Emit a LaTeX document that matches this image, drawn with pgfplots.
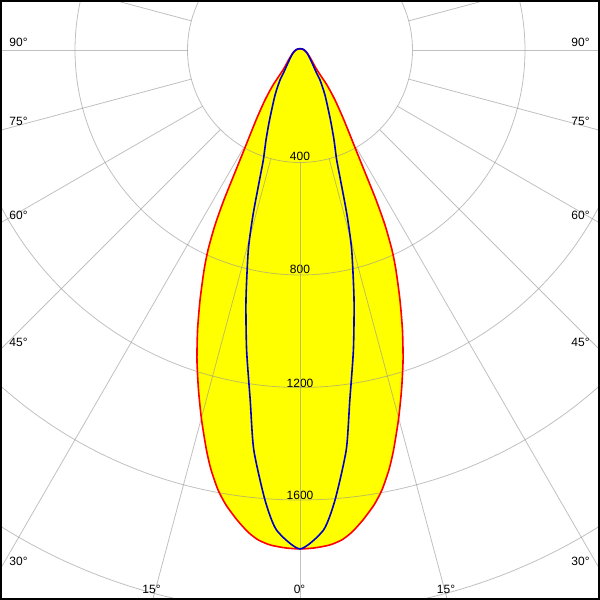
\documentclass[border=0pt]{standalone}
\usepackage{pgfplots}
\pgfplotsset{compat=1.18}
\usepackage{pgfplotstable}
\usepackage{fontspec}
\setmainfont{Liberation Sans}

% polar angle (0 = right, -90 = straight down), intensity in cd
\pgfplotstableread{
a r
-270 4
-240 5
-210 8
-180 15
-165 22
-149.5 35
-139 54
-130.4 93
-127.6 157
-125 217
-122.1 294
-119.25 407
-118.1 483
-116.9 598
-115.9 692
-114.7 783
-113.57 853
-111.8 957
-110.1 1060
-108.38 1162
-106.62 1262
-104.9 1361
-103.16 1461
-101.96 1526
-100.56 1591
-99.24 1639
-97.63 1686
-96.16 1724
-94.9 1748
-93.47 1763
-91.73 1771
-90 1774
-88.27 1771
-86.53 1763
-85.1 1748
-83.84 1724
-82.37 1686
-80.76 1639
-79.44 1591
-78.04 1526
-76.84 1461
-75.1 1361
-73.38 1262
-71.62 1162
-69.9 1060
-68.2 957
-66.43 853
-65.3 783
-64.1 692
-63.1 598
-61.9 483
-60.75 407
-57.9 294
-55 217
-52.4 157
-49.6 93
-41 54
-30.5 35
-15 22
0 15
30 8
60 5
90 4
}\reddata

\pgfplotstableread{
a r
-270 4
-240 5
-210 8
-180 15
-165 22
-149 34
-131.8 67
-125.6 102
-123.7 128
-119 183
-113.5 272
-110.7 342
-108.45 412
-107.3 484
-105.9 610
-104.5 734
-102.2 909
-100.1 1083
-98.1 1257
-96.6 1431
-94.45 1605
-92.8 1709
-90 1774
-87.2 1709
-85.55 1605
-83.4 1431
-81.9 1257
-79.9 1083
-77.8 909
-75.5 734
-74.1 610
-72.7 484
-71.55 412
-69.3 342
-66.5 272
-61 183
-56.3 128
-54.4 102
-48.2 67
-31 34
-15 22
0 15
30 8
60 5
90 4
}\bluedata

\definecolor{gridc}{RGB}{150,150,150}
\definecolor{curveblue}{RGB}{0,0,200}
\definecolor{fillyellow}{RGB}{255,255,0}
\tikzset{
  lab/.style={font=\fontsize{12}{14}\selectfont, inner sep=0pt, anchor=center},
  gridline/.style={gridc, opacity=0.6, line width=0.8pt},
}

\begin{document}
\begin{tikzpicture}
\useasboundingbox (0,0) rectangle (600pt,600pt);
\clip (0,0) rectangle (600pt,600pt);
\begin{axis}[
    width=600pt, height=600pt, scale only axis,
    at={(0,0)}, anchor=south west,
    xmin=-1066.67, xmax=1066.67,
    ymin=-1955.56, ymax=177.78,
    hide axis,
]
% filled distribution
\addplot[fill=fillyellow, draw=none, smooth, tension=0.4, data cs=polar, forget plot] table[x=a, y=r] {\reddata};

% intensity labels
\node[lab] at (axis cs:0,-377) {400};
\node[lab] at (axis cs:0,-780) {800};
\node[lab] at (axis cs:0,-1184) {1200};
\node[lab] at (axis cs:0,-1582) {1600};

% grid
\pgfplotsinvokeforeach{400,800,1200,1600,2000,2400}{
  \draw[gridline] (axis cs:0,0) circle[radius=#1];
}
\pgfplotsinvokeforeach{0,15,...,345}{
  \addplot[gridline, data cs=polar, forget plot] coordinates {(#1,400) (#1,2700)};
}

% angle labels
\node[lab] at (rel axis cs:0.0308,0.9292) {90°};
\node[lab] at (rel axis cs:0.9675,0.9292) {90°};
\node[lab] at (rel axis cs:0.0308,0.7975) {75°};
\node[lab] at (rel axis cs:0.9675,0.7975) {75°};
\node[lab] at (rel axis cs:0.0308,0.6417) {60°};
\node[lab] at (rel axis cs:0.9675,0.6417) {60°};
\node[lab] at (rel axis cs:0.0308,0.4292) {45°};
\node[lab] at (rel axis cs:0.9675,0.4292) {45°};
\node[lab] at (rel axis cs:0.0308,0.0642) {30°};
\node[lab] at (rel axis cs:0.9675,0.0642) {30°};
\node[lab] at (rel axis cs:0.2525,0.0183) {15°};
\node[lab] at (rel axis cs:0.7433,0.0183) {15°};
\node[lab] at (rel axis cs:0.4992,0.0183) {0°};

% curves
\addplot[red, line width=1.6pt, smooth, tension=0.4, data cs=polar] table[x=a, y=r] {\reddata};
\addplot[curveblue, line width=1.6pt, smooth, tension=0.4, data cs=polar] table[x=a, y=r] {\bluedata};
\end{axis}
\draw[black, line width=4.5pt] (0,0) rectangle (600pt,600pt);
\end{tikzpicture}
\end{document}
